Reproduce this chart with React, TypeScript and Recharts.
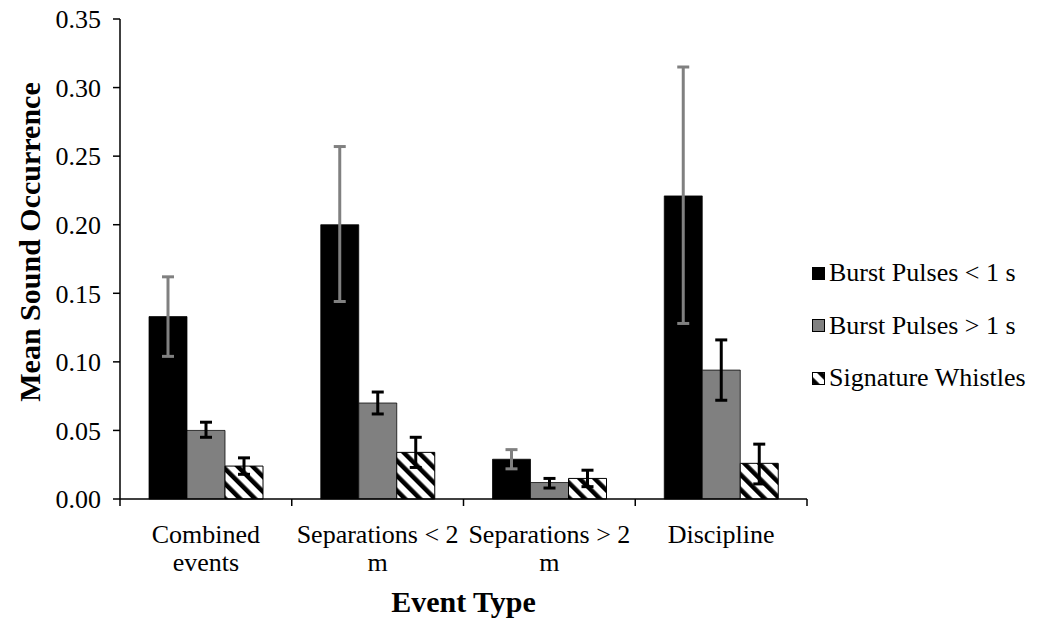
import React from 'react';
import { BarChart, Bar, XAxis, YAxis, ErrorBar, Label } from 'recharts';

const categories = ['Combined events', 'Separations < 2 m', 'Separations > 2 m', 'Discipline'];
const tickLines = [['Combined', 'events'], ['Separations < 2', 'm'], ['Separations > 2', 'm'], ['Discipline']];
const yTicks = [0, 0.05, 0.1, 0.15, 0.2, 0.25, 0.3, 0.35];

const burstShort = [0.133, 0.2, 0.029, 0.221];
const burstShortLow = [0.104, 0.144, 0.022, 0.128];
const burstShortHigh = [0.162, 0.257, 0.036, 0.315];

const burstLong = [0.05, 0.07, 0.012, 0.094];
const burstLongLow = [0.045, 0.062, 0.008, 0.072];
const burstLongHigh = [0.056, 0.078, 0.015, 0.116];

const whistles = [0.024, 0.034, 0.015, 0.026];
const whistlesLow = [0.018, 0.023, 0.009, 0.011];
const whistlesHigh = [0.03, 0.045, 0.021, 0.04];

const seriesNames = ['Burst Pulses < 1 s', 'Burst Pulses > 1 s', 'Signature Whistles'];

const FONT = "'Liberation Serif', 'Times New Roman', Tinos";

const data = categories.map((name, i) => ({
  name,
  short: burstShort[i],
  shortErr: [burstShort[i] - burstShortLow[i], burstShortHigh[i] - burstShort[i]],
  long: burstLong[i],
  longErr: [burstLong[i] - burstLongLow[i], burstLongHigh[i] - burstLong[i]],
  whistle: whistles[i],
  whistleErr: [whistles[i] - whistlesLow[i], whistlesHigh[i] - whistles[i]],
}));

// category tick: two-line label plus tick marks on the category boundaries
const CategoryTick = (props: any) => {
  const { x, y, payload, index } = props;
  const lines = tickLines[index] ?? [String(payload.value)];
  const half = payload.offset ?? 0;
  const isLast = index === categories.length - 1;
  return (
    <g>
      <line x1={x - half} x2={x - half} y1={y} y2={y + 7} stroke="#000" strokeWidth={1.5} />
      {isLast && <line x1={x + half} x2={x + half} y1={y} y2={y + 7} stroke="#000" strokeWidth={1.5} />}
      {lines.map((t: string, i: number) => (
        <text key={i} x={x} y={y + 44 + i * 28} textAnchor="middle" fontSize={26} style={{ fontFamily: FONT }} fill="#000">
          {t}
        </text>
      ))}
    </g>
  );
};

const iconFill = ['#000', '#808080', 'url(#legendStripes)'];

const LegendIcon = ({ idx }: { idx: number }) => (
  <svg width={13} height={13} style={{ display: 'block' }}>
    <rect x={0.5} y={0.5} width={12} height={12} fill={iconFill[idx]} stroke="#000" strokeWidth={1} />
  </svg>
);

export default function App() {
  return (
    <div style={{ position: 'relative', width: 1023, height: 619, marginTop: -8, fontFamily: FONT }}>
      <svg width={0} height={0} style={{ position: 'absolute' }}>
        <defs>
          <pattern id="legendStripes" patternUnits="userSpaceOnUse" width={10.6} height={10.6} patternTransform="rotate(-45)">
            <rect width={10.6} height={10.6} fill="#fff" />
            <rect x={3} width={4.5} height={10.6} fill="#000" />
          </pattern>
        </defs>
      </svg>

      <BarChart
        width={1023}
        height={619}
        data={data}
        margin={{ top: 19, right: 224, left: 0, bottom: 0 }}
        barSize={38}
        barGap={0}
      >
        <defs>
          <pattern id="whistleStripes" patternUnits="userSpaceOnUse" width={10.6} height={10.6} patternTransform="rotate(-45)">
            <rect width={10.6} height={10.6} fill="#fff" />
            <rect width={4.5} height={10.6} fill="#000" />
          </pattern>
        </defs>

        <XAxis
          dataKey="name"
          height={120}
          axisLine={{ stroke: '#000', strokeWidth: 1.5 }}
          tickLine={false}
          tickSize={0}
          tickMargin={0}
          interval={0}
          tick={<CategoryTick />}
        >
          <Label
            content={({ viewBox }: any) => (
              <text
                x={viewBox.x + viewBox.width / 2}
                y={viewBox.y + 113}
                textAnchor="middle"
                fontSize={30}
                fontWeight="bold"
                style={{ fontFamily: FONT }}
                fill="#000"
              >
                Event Type
              </text>
            )}
          />
        </XAxis>

        <YAxis
          width={112}
          domain={[0, 0.35]}
          ticks={yTicks}
          interval={0}
          tickFormatter={(v: number) => v.toFixed(2)}
          axisLine={{ stroke: '#000', strokeWidth: 1.5 }}
          tickLine={{ stroke: '#000', strokeWidth: 1.5 }}
          tickSize={7}
          tickMargin={12}
          tick={{ fill: '#000', fontSize: 26, style: { fontFamily: FONT } }}
        >
          <Label
            content={({ viewBox }: any) => {
              const cx = 32;
              const cy = viewBox.y + viewBox.height / 2 - 17;
              return (
                <text
                  x={cx}
                  y={cy}
                  transform={`rotate(-90, ${cx}, ${cy})`}
                  textAnchor="middle"
                  fontSize={30}
                  fontWeight="bold"
                  style={{ fontFamily: FONT }}
                  fill="#000"
                >
                  Mean Sound Occurrence
                </text>
              );
            }}
          />
        </YAxis>

        <Bar dataKey="short" name={seriesNames[0]} fill="#000" stroke="#000" strokeWidth={0.75} isAnimationActive={false}>
          <ErrorBar dataKey="shortErr" direction="y" width={6} stroke="#808080" strokeWidth={3} />
        </Bar>
        <Bar dataKey="long" name={seriesNames[1]} fill="#808080" stroke="#000" strokeWidth={0.75} isAnimationActive={false}>
          <ErrorBar dataKey="longErr" direction="y" width={6} stroke="#000" strokeWidth={3} />
        </Bar>
        <Bar dataKey="whistle" name={seriesNames[2]} fill="url(#whistleStripes)" stroke="#000" strokeWidth={1} isAnimationActive={false}>
          <ErrorBar dataKey="whistleErr" direction="y" width={6} stroke="#000" strokeWidth={3} />
        </Bar>
      </BarChart>

      <div
        style={{
          position: 'absolute',
          left: 804,
          top: 247,
          display: 'flex',
          flexDirection: 'column',
          fontFamily: FONT,
          fontSize: 26,
          color: '#000',
        }}
      >
        {seriesNames.map((s, i) => (
          <div key={s} style={{ height: 52.5, display: 'flex', alignItems: 'center', whiteSpace: 'nowrap' }}>
            <LegendIcon idx={i} />
            <span style={{ marginLeft: 4 }}>{s}</span>
          </div>
        ))}
      </div>
    </div>
  );
}
